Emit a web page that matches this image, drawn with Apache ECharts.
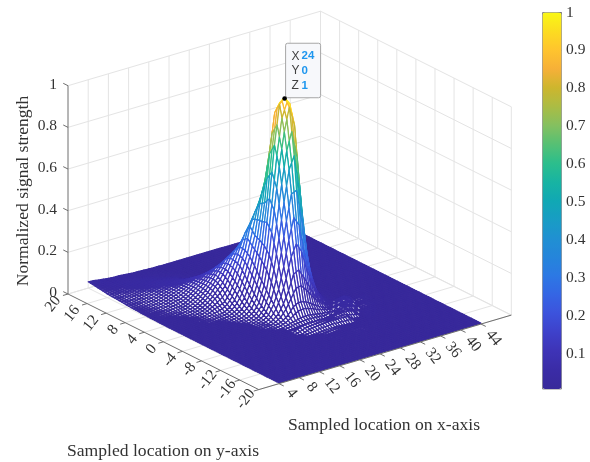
<!DOCTYPE html>
<html><head><meta charset="utf-8">
<style>html,body{margin:0;padding:0;background:#fff}#c{width:590px;height:462px}</style>
<script src="https://cdn.jsdelivr.net/npm/echarts@6/dist/echarts.min.js"></script>
</head><body><div id="c"></div>
<script>
const xTicks=[4,8,12,16,20,24,28,32,36,40,44];
const yTicks=[20,16,12,8,4,0,-4,-8,-12,-16,-20];
const zTicks=[0,0.2,0.4,0.6,0.8,1];
const colorbarTicks=[0.1,0.2,0.3,0.4,0.5,0.6,0.7,0.8,0.9,1];
const peak={x:24,y:0,z:1};
const colorStops=['#38299a','#3a2ca6','#3e33b6','#3e41ca','#3c52dc','#3565e4','#2c78e4','#2585db','#2090d2','#189dc4','#10a8b4','#18b4a2','#2cbe8c','#56c074','#84c060','#abbc44','#cdb62e','#f6b038','#ffc42e','#fcdc20','#f9f815'];
const xSamples=[];for(let v=4;v<=44;v++)xSamples.push(v);
const ySamples=[];for(let v=20;v>=-20;v--)ySamples.push(v);
const floorLevel=4; // thousandths
// surface heights in thousandths, one row per y (20 down to -20): [leading floor cells, readings]; the rest of the row is floor
const surfaceRows=[
[0,[30,28,24,21,18,16,15,13,11,9,8,7,6,5,5]],
[0,[28,26,24,22,21,20,18,16,14,12,10,9,7,6,5,5]],
[0,[24,24,24,24,24,24,23,21,18,16,13,11,9,8,6,6,5]],
[0,[21,22,24,26,28,28,27,26,23,21,18,15,12,10,8,7,5]],
[0,[18,21,24,28,30,31,32,31,29,26,23,20,17,14,11,6,5]],
[0,[16,20,24,28,31,34,35,36,35,33,30,27,23,19,11,8,6,6,5]],
[0,[15,18,23,27,32,35,39,40,41,41,39,35,31,20,16,13,9,7,6,5]],
[0,[13,16,21,26,31,36,40,44,47,48,47,44,35,30,25,19,15,11,8,7,5]],
[0,[11,14,18,23,29,35,41,47,52,55,56,52,49,44,37,30,24,18,13,6,5]],
[0,[9,12,16,21,26,33,41,48,55,60,64,66,66,62,54,47,38,30,11,8,6,5]],
[0,[8,10,13,18,23,30,39,47,56,64,74,82,84,82,78,69,60,38,20,13,9,5]],
[0,[7,9,11,15,20,27,35,44,52,66,82,94,101,106,105,100,79,51,35,24,15,10,5]],
[0,[6,7,9,12,17,23,31,35,49,66,84,101,119,130,138,123,107,85,63,43,29,18,12,5]],
[0,[5,6,8,10,14,19,20,30,44,62,82,106,130,154,167,170,158,134,108,78,53,36,22,15,10,5]],
[0,[5,5,6,8,11,11,16,25,37,54,78,105,138,167,199,215,212,200,168,134,100,68,46,30,21,14,5]],
[1,[5,6,7,6,8,13,19,30,47,69,100,128,170,215,249,273,268,249,216,174,146,110,78,43,24,14,5]],
[2,[5,5,5,6,9,15,24,38,60,80,107,158,212,273,335,375,344,333,317,285,225,142,84,43,21,8,5]],
[5,[6,7,11,18,30,38,51,85,134,200,268,375,440,490,505,536,492,368,244,140,74,28,11,6,5]],
[6,[6,8,13,14,20,35,63,108,168,249,344,490,594,734,786,694,534,363,213,88,31,12,6,5]],
[7,[6,6,8,13,24,43,78,134,216,333,505,734,924,965,854,683,465,226,86,31,12,7,6,5]],
[10,[9,15,29,53,100,178,317,536,786,975,1000,965,744,424,184,74,28,12,7,6,5]],
[11,[10,18,36,70,146,285,492,694,854,965,874,580,293,137,57,24,11,7,6,5]],
[12,[12,23,51,110,225,368,534,683,744,580,344,186,89,42,20,11,7,6,5]],
[12,[9,16,34,78,142,244,363,465,424,293,186,104,57,30,18,12,8,6,5]],
[12,[9,10,22,43,84,140,213,226,184,137,89,57,34,23,17,33,36,28,5,9,9]],
[13,[8,14,24,43,74,88,86,74,57,42,30,23,19,36,40,37,7,5,9,9]],
[14,[6,14,20,26,31,31,28,24,20,18,17,36,37,36,29,5,9,9]],
[15,[7,10,11,12,12,12,11,11,32,31,36,35,28,5,5,9,9]],
[15,[16,24,29,29,29,29,29,29,32,32,32,24,5,5,9,9]],
[16,[14,18,22,24,26,26,26,26,24,8,5,6,8,8,5]],
[18,[8,9,10,10,8,6,5,6,8,9,8,6]],
[20,[6,7,7,7,8,8,8,7,5]],
[18,[6,6,7,8,8,8,8,6,5]],
[19,[6,6,6,5,5]],
[0,[]],[0,[]],[0,[]],[0,[]],[0,[]],[0,[]],[0,[]]
];
const surface=surfaceRows.map(([lead,vals])=>{
  const r=Array(lead).fill(floorLevel).concat(vals);
  while(r.length<xSamples.length)r.push(floorLevel);
  return r;
});

// view of the box: orthographic projection onto page pixels
const view={ox:68,oy:294,xx:5.05,xy:-1.49,yx:4.77,yy:2.39,zy:-208.3,xMax:50,yTop:20,yBot:-20};
const proj=(x,y,z)=>[view.ox+x*view.xx+(view.yTop-y)*view.yx, view.oy+x*view.xy+(view.yTop-y)*view.yy+z*view.zy];
const subFlatArea=Math.abs(view.xx*view.yy-view.xy*view.yx)/4;
// the reference's lines on the side facing the viewer read bluer than their height
const colorOf=(x,y,z)=>{const v=(x-peak.x)+(y-peak.y);return z*(v<0?Math.max(0.55,1+0.08*v):1);};

const cells=[];
for(let j=0;j<ySamples.length-1;j++)for(let i=xSamples.length-2;i>=0;i--){
  const m=(surface[j][i]+surface[j][i+1]+surface[j+1][i]+surface[j+1][i+1])/4000;
  cells.push([i,j,m]);
}

function renderCell(params,api){
  const i=api.value(0),j=api.value(1);
  const x0=xSamples[i],x1=xSamples[i+1],y0=ySamples[j],y1=ySamples[j+1];
  const a=surface[j][i]/1000,b=surface[j][i+1]/1000,c=surface[j+1][i+1]/1000,d=surface[j+1][i]/1000;
  // a table cell is drawn as a mesh patch with one midline each way
  const at=(s,t)=>{const z=(a*(1-s)+b*s)*(1-t)+(d*(1-s)+c*s)*t;
    return {x:x0+(x1-x0)*s,y:y0+(y1-y0)*t,z};};
  const kids=[];
  [[0.5,0],[0,0],[0.5,0.5],[0,0.5]].forEach(([s,t])=>{
    const q=[at(s,t),at(s+0.5,t),at(s+0.5,t+0.5),at(s,t+0.5)];
    const pts=q.map(p=>api.coord(proj(p.x,p.y,p.z)));
    const area=Math.abs((pts[2][0]-pts[0][0])*(pts[3][1]-pts[1][1])-(pts[3][0]-pts[1][0])*(pts[2][1]-pts[0][1]))/2;
    const m=at(s+0.25,t+0.25);
    const color=echarts.color.lerp(Math.max(0,Math.min(1,colorOf(m.x,m.y,m.z))),colorStops);
    const ink=Math.max(0,Math.min(1,(1.4-area/subFlatArea)/0.25));
    kids.push({type:'polygon',silent:true,shape:{points:pts},
      style:{fill:echarts.color.lerp(ink,['#ffffff',color]),stroke:color,lineWidth:1.25,lineJoin:'round'}});
  });
  return {type:'group',children:kids};
}

const gridColor='#e4e4e4',axisColor='#6e6e6e',textColor='#333333',serif='"Liberation Serif",serif';
function renderFrame(params,api){
  const out=[];
  const seg=(a,b,stroke,w)=>{const p=api.coord(a),q=api.coord(b);
    out.push({type:'line',silent:true,shape:{x1:p[0],y1:p[1],x2:q[0],y2:q[1]},style:{stroke,lineWidth:w||1}});};
  const {xMax,yTop,yBot}=view;
  const wallX=[...xTicks,xMax],wallY=yTicks;
  wallX.forEach(x=>{seg(proj(x,yTop,0),proj(x,yTop,1),gridColor);seg(proj(x,yTop,0),proj(x,yBot,0),gridColor);});
  wallY.forEach(y=>{seg(proj(xMax,y,0),proj(xMax,y,1),gridColor);seg(proj(0,y,0),proj(xMax,y,0),gridColor);});
  zTicks.forEach(z=>{seg(proj(0,yTop,z),proj(xMax,yTop,z),gridColor);seg(proj(xMax,yTop,z),proj(xMax,yBot,z),gridColor);});
  return {type:'group',children:out};
}
function renderAxes(params,api){
  const out=[];
  const seg=(a,b,stroke,w)=>{const p=api.coord(a),q=api.coord(b);
    out.push({type:'line',silent:true,shape:{x1:p[0],y1:p[1],x2:q[0],y2:q[1]},style:{stroke,lineWidth:w||1}});};
  const txt=(s,p,dx,dy,rot,size,fill,align)=>{const c=api.coord(p);
    out.push({type:'text',silent:true,x:c[0]+dx,y:c[1]+dy,rotation:rot||0,
      style:{text:s,fill:fill||textColor,font:(size||15)+'px '+serif,align:align||'center',verticalAlign:'middle'}});};
  const {xMax,yTop,yBot}=view;
  seg(proj(0,yTop,0),proj(0,yTop,1),axisColor);
  seg(proj(0,yTop,0),proj(0,yBot,0),axisColor);
  seg(proj(0,yBot,0),proj(xMax,yBot,0),axisColor);
  zTicks.forEach(z=>{seg(proj(0,yTop,z),proj(0,yTop+1,z),axisColor);
    txt(String(z),proj(0,yTop,z),-11,-1,0,15.5,textColor,'right');});
  xTicks.forEach(x=>{seg(proj(x,yBot,0),proj(x,yBot-1,0),axisColor);
    const s=String(x);txt(s,proj(x,yBot,0),12.5,s.length===1?9.5:14,-0.9,15.5);});
  yTicks.forEach(y=>{const p=proj(0,y,0);seg(p,proj(-1,y,0),axisColor);
    const s=String(y);
    const off=s.length===1?[-12,7.3]:(s.length===2&&y>0?[-15,10]:(s.length===2?[-12.5,8.6]:[-13,9.5]));
    txt(s,p,off[0],off[1],0.9,15.5);});
  // colour bar frame, ticks and labels
  const barL=542.5,barR=561.5,barT=12.5,barB=389,valY=v=>barT+(1-v)*378.9;
  [[barL,barT,barR,barT],[barR,barT,barR,barB],[barR,barB,barL,barB],[barL,barB,barL,barT]].forEach(b=>seg([b[0],b[1]],[b[2],b[3]],'#8a8a8a'));
  colorbarTicks.forEach(v=>{const y=valY(v);seg([barR,y],[barR-4,y],'#777777');txt(String(v),[566,y],0,0,0,15.5,textColor,'left');});
  return {type:'group',children:out};
}
function renderTip(params,api){
  const top=proj(peak.x,peak.y,peak.z),t=api.coord(top);
  const kids=[{type:'rect',silent:true,shape:{x:t[0]+1,y:t[1]-54.5,width:35,height:54.5,r:2},style:{fill:'#f7f8fb',stroke:'#a6a6a6',lineWidth:1}},
    {type:'circle',silent:true,shape:{cx:t[0],cy:t[1]+0.8,r:2.3},style:{fill:'#000'}}];
  [['X',peak.x],['Y',peak.y],['Z',peak.z]].forEach(([k,v],n)=>{
    const y=t[1]-41.5+n*14.8;
    kids.push({type:'text',silent:true,x:t[0]+7,y,style:{text:k,fill:'#404040',font:'12px "Liberation Sans",sans-serif',verticalAlign:'middle'}});
    kids.push({type:'text',silent:true,x:t[0]+17,y,style:{text:String(v),fill:'#1e96ee',font:'bold 11.5px "Liberation Sans",sans-serif',verticalAlign:'middle'}});
  });
  return {type:'group',children:kids};
}

const chart=echarts.init(document.getElementById('c'),null,{renderer:'canvas'});
chart.setOption({
  animation:false,backgroundColor:'#fff',
  grid:{left:0,right:0,top:0,bottom:0},
  xAxis:{type:'value',min:0,max:590,show:false},
  yAxis:{type:'value',min:0,max:462,inverse:true,show:false},
  visualMap:{type:'continuous',min:0,max:1,seriesIndex:1,dimension:2,left:542.5,top:12.5,itemWidth:19,itemHeight:376.5,padding:0,
    calculable:false,hoverLink:false,text:null,showLabel:false,inRange:{color:colorStops}},
  tooltip:{show:false},
  graphic:[
    {type:'text',silent:true,x:23,y:191,rotation:Math.PI/2,style:{text:'Normalized signal strength',fill:textColor,font:'17.6px '+serif,align:'center',verticalAlign:'middle'}},
    {type:'text',silent:true,x:288,y:425,style:{text:'Sampled location on x-axis',fill:textColor,font:'17.6px '+serif,verticalAlign:'middle'}},
    {type:'text',silent:true,x:67,y:451,style:{text:'Sampled location on y-axis',fill:textColor,font:'17.6px '+serif,verticalAlign:'middle'}}
  ],
  series:[
    {type:'custom',coordinateSystem:'cartesian2d',silent:true,clip:false,data:[[0,0]],renderItem:renderFrame,z:1},
    {type:'custom',coordinateSystem:'cartesian2d',silent:true,clip:false,progressive:0,data:cells,renderItem:renderCell,dimensions:['i','j','z'],encode:{x:0,y:1},z:2},
    {type:'custom',coordinateSystem:'cartesian2d',silent:true,clip:false,data:[[0,0]],renderItem:renderAxes,z:3},
    {type:'custom',coordinateSystem:'cartesian2d',silent:true,clip:false,data:[[0,0]],renderItem:renderTip,z:4}
  ]
});
</script></body></html>
